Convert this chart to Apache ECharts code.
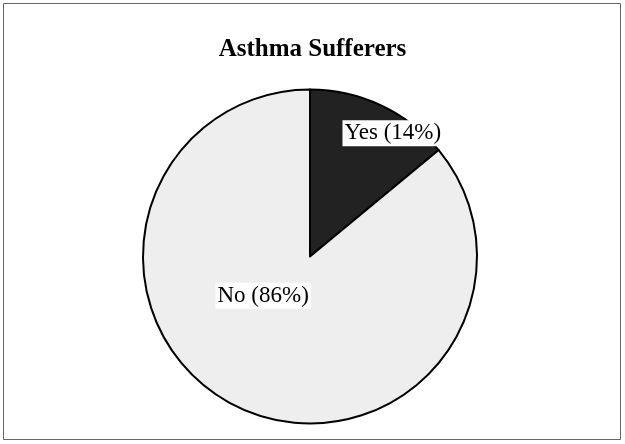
<!DOCTYPE html>
<html>
<head>
<meta charset="utf-8">
<script src="https://cdn.jsdelivr.net/npm/echarts@6/dist/echarts.min.js"></script>
<style>
html,body{margin:0;padding:0;background:#fff;}
#main{width:625px;height:444px;}
</style>
</head>
<body>
<div id="main"></div>
<script>
const categories = ['Yes', 'No'];
const values = [14, 86];
const colors = ['#222222', '#eeeeee'];
const labelOffsets = [[46, -45], [-10, -39]];

const chart = echarts.init(document.getElementById('main'), null, {renderer: 'canvas'});
chart.setOption({
  animation: false,
  backgroundColor: '#ffffff',
  title: {
    text: 'Asthma Sufferers',
    left: 'center',
    top: 32,
    textStyle: {fontFamily: 'Liberation Serif', fontWeight: 'bold', fontSize: 25, color: '#000'}
  },
  graphic: [{
    type: 'rect',
    shape: {x: 3.5, y: 3.5, width: 617, height: 436},
    style: {fill: 'none', stroke: '#666', lineWidth: 1},
    silent: true
  }],
  series: [{
    type: 'pie',
    center: [310, 256.5],
    radius: [0, 167],
    startAngle: 90,
    clockwise: true,
    avoidLabelOverlap: false,
    itemStyle: {borderColor: '#000', borderWidth: 2},
    label: {
      show: true,
      position: 'inside',
      fontFamily: 'Liberation Serif',
      fontSize: 23,
      color: '#000',
      backgroundColor: '#fff',
      padding: [2, 2, 1, 2],
      formatter: p => p.name + ' (' + p.value + '%)'
    },
    labelLine: {show: false},
    data: categories.map((c, i) => ({
      name: c,
      value: values[i],
      itemStyle: {color: colors[i]},
      label: {offset: labelOffsets[i]}
    }))
  }]
});
</script>
</body>
</html>
